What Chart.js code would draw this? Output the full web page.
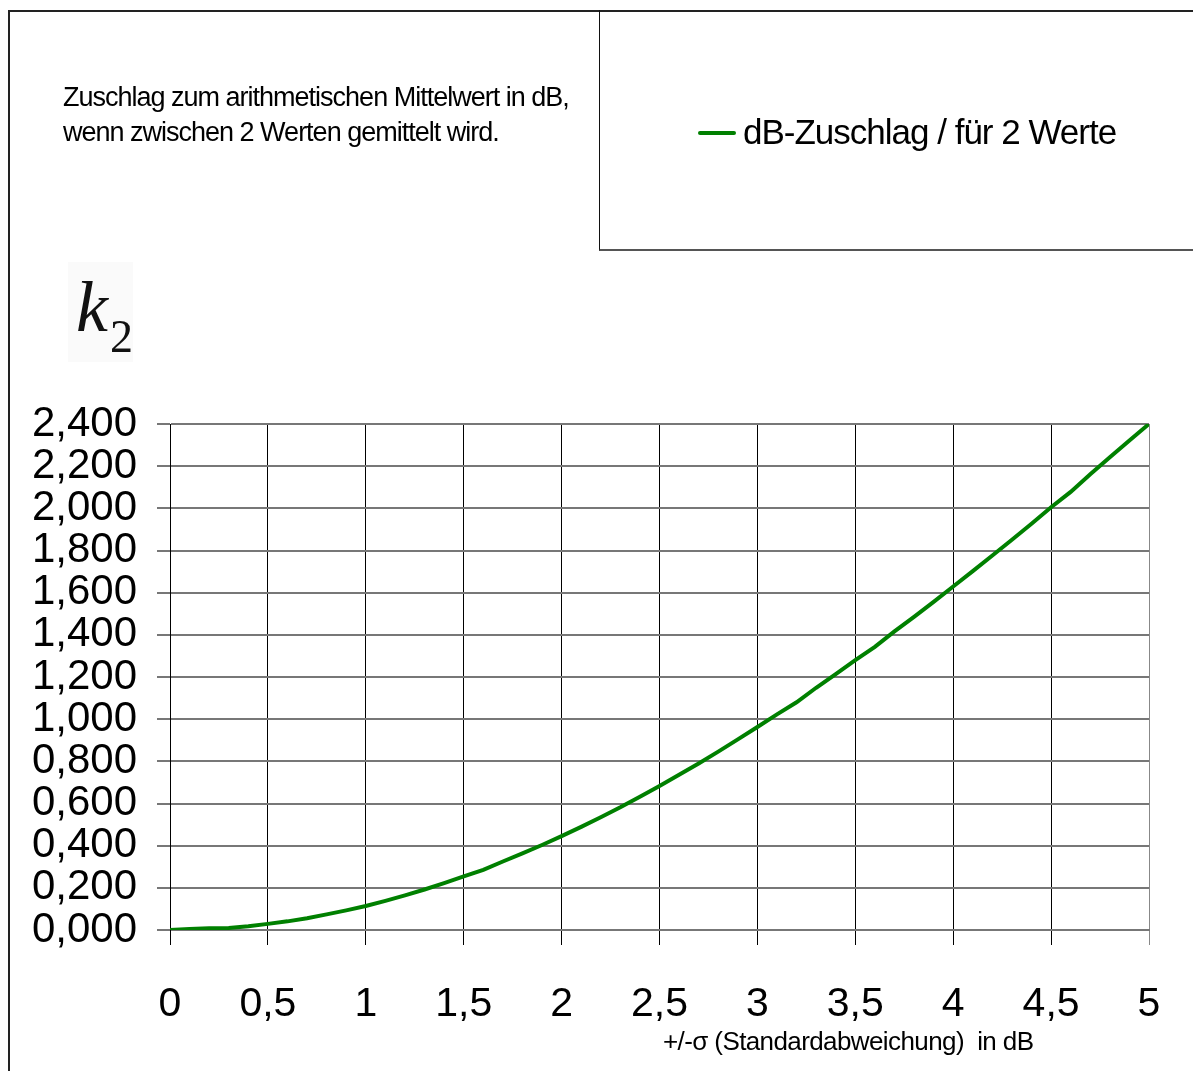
<!DOCTYPE html>
<html>
<head>
<meta charset="utf-8">
<script src="https://cdn.jsdelivr.net/npm/chart.js@4"></script>
<style>
	body { margin: 0; background: #fff; font-family: "Liberation Sans", Arial, sans-serif; }
	#wrap { position: relative; width: 1193px; height: 1071px; overflow: hidden; }
	#myChart { position: absolute; left: 0; top: 0; }
	.frame { position: absolute; left: 8px; top: 10px; width: 1200px; height: 1100px; border-left: 2px solid #222; border-top: 2px solid #222; }
	.legendBox { position: absolute; left: 599px; top: 10px; width: 600px; height: 239px; border-left: 1px solid #111; border-bottom: 2px solid #555; }
	.legendBox .swatch { position: absolute; left: 98px; top: 121px; width: 38px; height: 4px; background: #008000; border-radius: 2px; }
	.legendBox .label { position: absolute; left: 143px; top: 102px; font-size: 35px; letter-spacing: -1px; white-space: nowrap; color: #000; }
	.title { position: absolute; left: 63px; top: 80px; font-size: 27px; line-height: 35px; letter-spacing: -1px; color: #000; white-space: nowrap; }
	.k2 { position: absolute; left: 68px; top: 262px; width: 65px; height: 100px; background: #fafafa; font-family: "Liberation Serif", "DejaVu Serif", serif; font-style: italic; font-size: 72px; color: #111; }
	.k2 span { position: absolute; }
	.xTitle { position: absolute; left: 663px; top: 1026px; font-size: 26px; letter-spacing: -0.6px; white-space: nowrap; color: #000; }
</style>
</head>
<body>
<div id="wrap">
	<canvas id="myChart" width="1193" height="1071"></canvas>
	<div class="frame"></div>
	<div class="legendBox"><div class="swatch"></div><div class="label">dB-Zuschlag / für 2 Werte</div></div>
	<div class="title">Zuschlag zum arithmetischen Mittelwert in dB,<br>wenn zwischen 2 Werten gemittelt wird.</div>
	<div class="k2"><span style="left:8px;top:4px;">k</span><span style="left:42px;top:48px;font-style:normal;font-size:46px;">2</span></div>
	<div class="xTitle">+/-σ (Standardabweichung)&nbsp; in dB</div>
</div>
<script>
// +/- sigma in dB, step 0.1
const sigmaValues = [
	0, 0.1, 0.2, 0.3, 0.4, 0.5, 0.6, 0.7, 0.8, 0.9,
	1, 1.1, 1.2, 1.3, 1.4, 1.5, 1.6, 1.7, 1.8, 1.9,
	2, 2.1, 2.2, 2.3, 2.4, 2.5, 2.6, 2.7, 2.8, 2.9,
	3, 3.1, 3.2, 3.3, 3.4, 3.5, 3.6, 3.7, 3.8, 3.9,
	4, 4.1, 4.2, 4.3, 4.4, 4.5, 4.6, 4.7, 4.8, 4.9, 5,
];
// k2
const k2Values = [
	0.000, 0.005, 0.008, 0.010, 0.018, 0.029, 0.041, 0.056, 0.074, 0.093,
	0.114, 0.138, 0.164, 0.192, 0.222, 0.254, 0.285, 0.325, 0.363, 0.403,
	0.445, 0.489, 0.535, 0.582, 0.632, 0.683, 0.736, 0.790, 0.846, 0.904,
	0.963, 1.023, 1.080, 1.149, 1.214, 1.280, 1.343, 1.416, 1.485, 1.556,
	1.629, 1.702, 1.776, 1.851, 1.927, 2.005, 2.078, 2.162, 2.242, 2.322, 2.400,
];
const yTicks = [0, 0.2, 0.4, 0.6, 0.8, 1, 1.2, 1.4, 1.6, 1.8, 2, 2.2, 2.4];
const xTicks = [0, 0.5, 1, 1.5, 2, 2.5, 3, 3.5, 4, 4.5, 5];
const seriesName = "dB-Zuschlag / für 2 Werte";

const ctx = document.getElementById("myChart");
const font = "'Liberation Sans', Arial, sans-serif";

const points = sigmaValues.map((s, i) => ({ x: s, y: k2Values[i] }));

const myChart = new Chart(ctx, {
	type: "line",
	data: {
		datasets: [
			{
				label: seriesName,
				data: points,
				borderColor: "#008000",
				borderWidth: 4,
				pointRadius: 0,
				fill: false,
				tension: 0,
			},
		],
	},
	options: {
		responsive: false,
		animation: false,
		devicePixelRatio: 1,
		layout: {
			padding: { left: 0, top: 424, right: 44, bottom: 0 },
		},
		plugins: {
			legend: { display: false },
			tooltip: { enabled: false },
		},
		scales: {
			x: {
				type: "linear",
				min: 0,
				max: 5,
				afterBuildTicks: (scale) => {
					scale.ticks = xTicks.map((v) => ({ value: v }));
				},
				afterFit: (scale) => {
					scale.height = 141;
					// labels overhang into the padding; don't let them shrink the plot
					scale.paddingLeft = 0;
					scale.paddingRight = 0;
				},
				grid: {
					color: (c) => (c.index === xTicks.length - 1 ? "#888" : "#000"),
					lineWidth: 1,
					tickLength: 15,
				},
				border: { color: "#777", width: 2 },
				ticks: {
					color: "#000",
					padding: 35,
					maxRotation: 0,
					autoSkip: false,
					font: { family: font, size: 41 },
					callback: (v) => String(v).replace(".", ","),
				},
			},
			y: {
				min: 0,
				max: 2.4,
				afterBuildTicks: (scale) => {
					scale.ticks = yTicks.map((v) => ({ value: v }));
				},
				afterFit: (scale) => {
					scale.width = 170;
				},
				grid: {
					color: "#777",
					lineWidth: 2,
					tickLength: 13,
				},
				border: { color: "#000", width: 1 },
				ticks: {
					color: "#000",
					padding: 20,
					autoSkip: false,
					font: { family: font, size: 42 },
					callback: (v) => v.toFixed(3).replace(".", ","),
				},
			},
		},
	},
});
</script>
</body>
</html>
